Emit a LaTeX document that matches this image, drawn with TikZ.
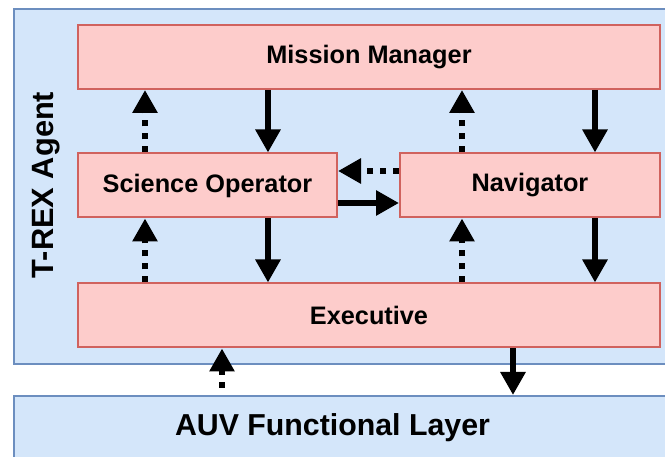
\documentclass[tikz,border=0pt]{standalone}
\usepackage{fontspec}
\setmainfont{Liberation Sans}
\usetikzlibrary{arrows.meta,calc}
\definecolor{agentfill}{HTML}{D4E6FA}
\definecolor{agentline}{HTML}{6C8EBF}
\definecolor{modfill}{HTML}{FDCCCB}
\definecolor{modline}{HTML}{D0625E}

\tikzset{
  layer/.style={draw=agentline,fill=agentfill,line width=1.8pt,inner sep=0pt},
  module/.style={draw=modline,fill=modfill,line width=2pt,inner sep=0pt,
    minimum height=64pt,font=\fontsize{25.3}{28}\selectfont\bfseries},
  cmd/.style={line width=6pt,-{Triangle[length=23pt,width=24pt]}},
  obs/.style={cmd,dash pattern=on 6pt off 7pt},
}

\begin{document}
\begin{tikzpicture}[x=1pt,y=-1pt]
\useasboundingbox (0,0) rectangle (665,457);
\clip (0,0) rectangle (665,457);
% agent and functional layer
\node[layer,anchor=north west,minimum width=700pt,minimum height=355pt] (agent) at (13,8) {};
\node[rotate=90,anchor=base,font=\fontsize{30.8}{33}\selectfont\bfseries] (agentlbl) at (53,185) {T-REX Agent};
\node[layer,anchor=north west,minimum width=700pt,minimum height=80pt] (auv) at (13,395) {};
\node[font=\fontsize{30.3}{33}\selectfont\bfseries] (auvlbl) at (332.5,428) {AUV Functional Layer};
% reactors
\node[module,minimum width=582pt] (mm) at (369,57) {Mission Manager};
\node[module,minimum width=259pt] (so) at (207.5,185.5) {Science Operator};
\node[module,minimum width=260pt] (nav) at (530,185.5) {Navigator};
\node[module,minimum width=582pt] (exec) at (369,315.5) {Executive};
% columns and rows for the links
\coordinate (cola) at (145,0);
\coordinate (colb) at (268,0);
\coordinate (colc) at (462,0);
\coordinate (cold) at (595,0);
\coordinate (rowa) at (0,171);
\coordinate (rowb) at (0,203);
\coordinate (obsin) at (222,388);
\coordinate (cmdout) at (513,0);
% observations up, goals down
\draw[obs] (so.north -| cola) -- (mm.south -| cola);
\draw[cmd] (mm.south -| colb) -- (so.north -| colb);
\draw[obs] (nav.north -| colc) -- (mm.south -| colc);
\draw[cmd] (mm.south -| cold) -- (nav.north -| cold);
\draw[obs] (exec.north -| cola) -- (so.south -| cola);
\draw[cmd] (so.south -| colb) -- (exec.north -| colb);
\draw[obs] (exec.north -| colc) -- (nav.south -| colc);
\draw[cmd] (nav.south -| cold) -- (exec.north -| cold);
\draw[obs] (nav.west |- rowa) -- (so.east |- rowa);
\draw[cmd] (so.east |- rowb) -- (nav.west |- rowb);
\draw[obs] (obsin) -- (exec.south -| obsin);
\draw[cmd] (exec.south -| cmdout) -- (auv.north -| cmdout);
\end{tikzpicture}
\end{document}
